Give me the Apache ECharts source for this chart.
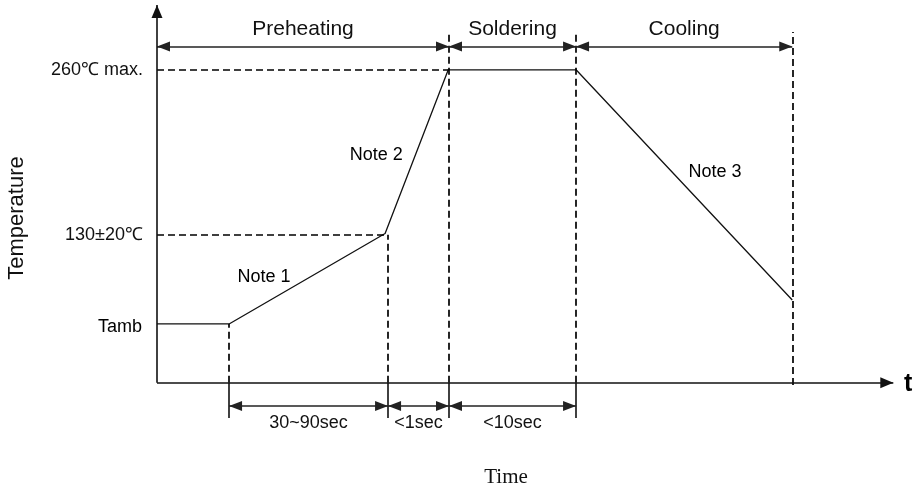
<!DOCTYPE html>
<html>
<head>
<meta charset="utf-8">
<script src="https://cdn.jsdelivr.net/npm/echarts@6/dist/echarts.min.js"></script>
<style>
    html, body {margin: 0; padding: 0; background: #fff}
    #chart {width: 914px; height: 491px}
</style>
</head>
<body>
<div id="chart"></div>
<script>
    // temperature profile (time is schematic, 0..100)
    var profileTime = [0, 9.7, 30.7, 39.2, 56.4, 85.5];
    var profileTemp = [48.8, 48.8, 124, 260, 260, 68.7];

    // phases along the top
    var phaseNames = ['Preheating', 'Soldering', 'Cooling'];
    var phaseEdges = [0, 39.3, 56.4, 85.5];
    var phaseLevel = 279.4;

    // durations under the time axis
    var stepNames = ['30~90sec', '<1sec', '<10sec'];
    var stepEdges = [9.7, 31.1, 39.3, 56.4];
    var stepLevel = -19.4;
    var stepTickEnd = -29.3;

    // dashed guides
    var levelNames = ['260℃ max.', '130±20℃'];
    var levelTemps = [260, 123];
    var levelEnds = [39.2, 30.7];
    var guideTime = [9.7, 31.1, 39.3, 56.4, 85.5];
    var guideTop = [48.8, 123, 291.4, 291.4, 291.4];
    var guideBottom = [0, 0, 0, 0, -2];

    // notes
    var noteNames = ['Note 1', 'Note 2', 'Note 3'];
    var noteTime = [14.4, 29.5, 75.1];
    var noteTemp = [87.8, 189.2, 175.1];
    var ambName = 'Tamb';
    var ambTemp = 48.8;

    // axes ends
    var timeAxisEnd = 99.1;
    var tempAxisEnd = 313.9;

    var FONT = 'Liberation Sans, Arial, sans-serif';

    function seg(x1, y1, x2, y2, extra) {
        var a = {coord: [x1, y1]};
        if (extra) Object.assign(a, extra);
        return [a, {coord: [x2, y2]}];
    }

    var dashedLines = [];
    levelNames.forEach(function (name, i) {
        dashedLines.push(seg(0, levelTemps[i], levelEnds[i], levelTemps[i], {
            label: {show: true, position: 'start', formatter: name, distance: 14,
                fontSize: 18, color: '#111', fontFamily: FONT}
        }));
    });
    guideTime.forEach(function (t, i) {
        dashedLines.push(seg(t, guideBottom[i], t, guideTop[i]));
    });

    var tickLines = stepEdges.map(function (t) {
        return seg(t, 0, t, stepTickEnd);
    });

    var dimLines = [];
    phaseNames.forEach(function (name, i) {
        dimLines.push(seg(phaseEdges[i], phaseLevel, phaseEdges[i + 1], phaseLevel, {
            label: {show: true, position: 'insideMiddleTop', formatter: name, distance: 7,
                fontSize: 21, color: '#111', fontFamily: FONT}
        }));
    });
    stepNames.forEach(function (name, i) {
        dimLines.push(seg(stepEdges[i], stepLevel, stepEdges[i + 1], stepLevel, {
            label: {show: true, position: 'insideMiddleBottom', formatter: name, distance: 8,
                fontSize: 18, color: '#111', fontFamily: FONT}
        }));
    });

    var axisLines = [
        [{coord: [0, 0], symbol: 'none'}, {coord: [timeAxisEnd, 0], symbol: 'triangle'}],
        [{coord: [0, 0], symbol: 'none'}, {coord: [0, tempAxisEnd], symbol: 'triangle'}]
    ];

    var textPoints = noteNames.map(function (n, i) {
        return {name: n, value: [noteTime[i], noteTemp[i]]};
    });

    // pull arrow heads back so their tips sit on the line ends
    var tipBack = [[0, '50%'], [0, '50%']];

    var myChart = echarts.init(document.getElementById('chart'));
    myChart.setOption({
        animation: false,
        grid: {left: 157, right: 14, top: 0, bottom: 0},
        xAxis: {type: 'value', min: 0, max: 100, show: false},
        yAxis: {type: 'value', min: -90, max: 318, show: false},
        graphic: [
            {type: 'text', x: 17, y: 218, rotation: Math.PI / 2,
                style: {text: 'Temperature', fontSize: 22, fontFamily: FONT, fill: '#111',
                    align: 'center', verticalAlign: 'middle'}},
            {type: 'text', x: 506, y: 477,
                style: {text: 'Time', fontSize: 21, fontFamily: 'Liberation Serif, Times New Roman, serif',
                    fill: '#111', align: 'center', verticalAlign: 'middle'}},
            {type: 'text', x: 904, y: 384,
                style: {text: 't', fontSize: 25, fontWeight: 'bold', fontFamily: FONT, fill: '#000',
                    align: 'left', verticalAlign: 'middle'}}
        ],
        series: [
            {
                name: 'profile',
                type: 'line',
                data: profileTime.map(function (t, i) { return [t, profileTemp[i]]; }),
                symbol: 'none',
                lineStyle: {color: '#111', width: 1.3},
                silent: true,
                markLine: {
                    silent: true,
                    symbol: 'none',
                    label: {show: false},
                    lineStyle: {color: '#000', width: 1.7, type: [7, 4]},
                    data: dashedLines
                }
            },
            {
                name: 'ticks',
                type: 'line',
                data: [],
                markLine: {
                    silent: true,
                    symbol: 'none',
                    label: {show: false},
                    lineStyle: {color: '#111', width: 1.6, type: 'solid'},
                    data: tickLines
                }
            },
            {
                name: 'dims',
                type: 'line',
                data: [],
                markLine: {
                    silent: true,
                    symbol: ['triangle', 'triangle'],
                    symbolSize: [10, 13],
                    symbolOffset: tipBack,
                    label: {show: false},
                    lineStyle: {color: '#222', width: 1.6, type: 'solid'},
                    data: dimLines
                }
            },
            {
                name: 'axes',
                type: 'line',
                data: [],
                markLine: {
                    silent: true,
                    symbolSize: [11, 13],
                    symbolOffset: tipBack,
                    label: {show: false},
                    lineStyle: {color: '#111', width: 1.6, type: 'solid'},
                    data: axisLines
                }
            },
            {
                name: 'notes',
                type: 'scatter',
                symbolSize: 0,
                silent: true,
                itemStyle: {opacity: 1},
                label: {show: true, position: 'inside', formatter: '{b}', opacity: 1,
                    textBorderWidth: 0, fontSize: 18, color: '#000', fontFamily: FONT},
                data: textPoints.concat([{
                    name: ambName, value: [0, ambTemp],
                    label: {position: 'left', distance: 15, offset: [0, 3]}
                }])
            }
        ]
    });
</script>
</body>
</html>
